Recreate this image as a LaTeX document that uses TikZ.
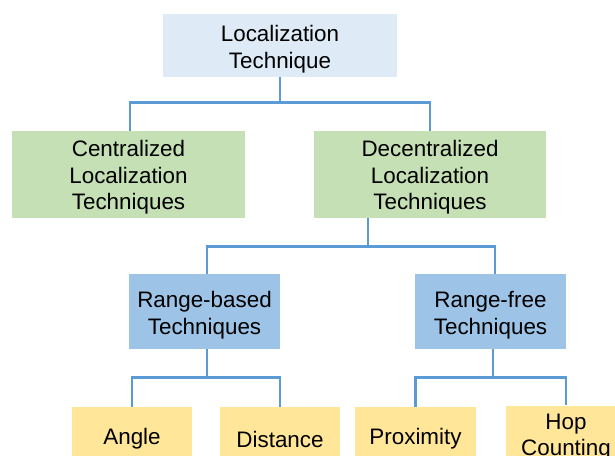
\documentclass[tikz,border=0pt]{standalone}
\usepackage{fontspec}
\setmainfont{Liberation Sans}
\definecolor{topc}{HTML}{DEEBF7}
\definecolor{greenc}{HTML}{C5E0B4}
\definecolor{bluec}{HTML}{9DC3E6}
\definecolor{yellowc}{HTML}{FFE699}
\definecolor{linec}{HTML}{5B9BD5}
\begin{document}
\begin{tikzpicture}[x=1pt,y=-1pt,
  box/.style={rectangle, inner sep=0pt},
  txt/.style={inner sep=0pt, align=center, text=black,
    font=\fontsize{22.4}{26.7}\selectfont},
  conn/.style={draw=linec, line width=2.6pt}]
\useasboundingbox (0,0) rectangle (615,455);
\clip (0,0) rectangle (615,455);
\node[box, fill=topc, minimum width=234pt, minimum height=63pt] (top) at (280,45.5) {};
\node[box, fill=greenc, minimum width=233pt, minimum height=87pt] (cent) at (128.5,174.5) {};
\node[box, fill=greenc, minimum width=232pt, minimum height=87pt] (decent) at (430,174.5) {};
\node[box, fill=bluec, minimum width=151pt, minimum height=75pt] (rb) at (204.5,311.5) {};
\node[box, fill=bluec, minimum width=151pt, minimum height=75pt] (rf) at (490.5,311.5) {};
\node[box, fill=yellowc, minimum width=120pt, minimum height=58pt] (angle) at (132,436) {};
\node[box, fill=yellowc, minimum width=120pt, minimum height=58pt] (dist) at (280,436) {};
\node[box, fill=yellowc, minimum width=121pt, minimum height=58pt] (prox) at (415.5,436) {};
\node[box, fill=yellowc, minimum width=120pt, minimum height=58pt] (hop) at (566,434.5) {};
\node[txt] (toptxt) at ([yshift=-3.5pt]top.center) {Localization\\Technique};
\node[txt] (centtxt) at ([yshift=-3pt]cent.center) {Centralized\\Localization\\Techniques};
\node[txt] (decenttxt) at ([yshift=-3pt]decent.center) {Decentralized\\Localization\\Techniques};
\node[txt] (rbtxt) at ([yshift=-3.5pt]rb.center) {Range-based\\Techniques};
\node[txt] (rftxt) at ([yshift=-3.5pt]rf.center) {Range-free\\Techniques};
\node[txt] (angletxt) at ([yshift=-3pt]angle.center) {Angle};
\node[txt] (disttxt) at ([yshift=-3pt]dist.center) {Distance};
\node[txt] (proxtxt) at ([yshift=-3pt]prox.center) {Proximity};
\node[txt] (hoptxt) at ([yshift=-2.5pt]hop.center) {Hop\\Counting};
\draw[conn] (top.south) -- ++(0,25.5) -| ([xshift=1.5pt]cent.north);
\draw[conn] (top.south) -- ++(0,25.5) -| (decent.north);
\draw[conn] ([xshift=-62pt]decent.south) -- ++(0,28) -| ([xshift=2.5pt]rb.north);
\draw[conn] ([xshift=-62pt]decent.south) -- ++(0,28) -| ([xshift=4.5pt]rf.north);
\draw[conn] ([xshift=2.5pt]rb.south) -- ++(0,28) -| (angle.north);
\draw[conn] ([xshift=2.5pt]rb.south) -- ++(0,28) -| (dist.north);
\draw[conn] ([xshift=2.5pt]rf.south) -- ++(0,28) -| (prox.north);
\draw[conn] ([xshift=2.5pt]rf.south) -- ++(0,28) -| (hop.north);
\end{tikzpicture}
\end{document}
